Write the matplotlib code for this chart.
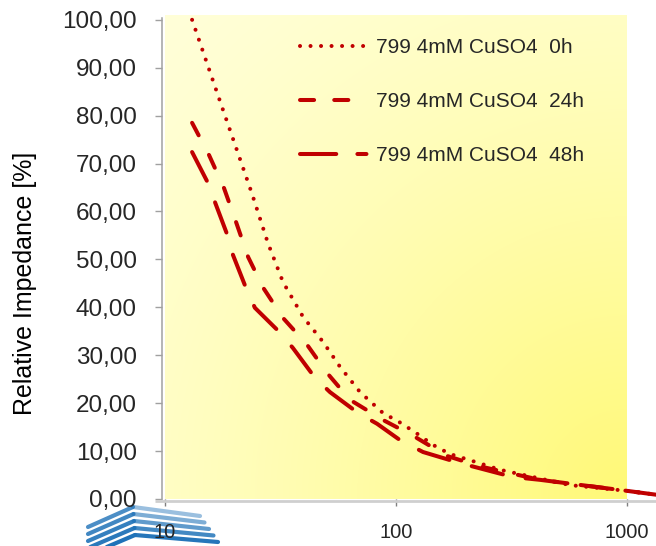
import numpy as np
import matplotlib
matplotlib.use("Agg")
import matplotlib.pyplot as plt
from matplotlib.lines import Line2D
from matplotlib.ticker import FixedLocator, FuncFormatter, NullLocator

plt.rcParams['font.family'] = ['Liberation Sans', 'DejaVu Sans']

# relative impedance vs frequency, 799 sensor in 4mM CuSO4
freq_0h = [13.1, 17.65, 23.8, 27.9, 32.4, 39.6, 48.3, 57.2, 69.9, 87.8,
           103, 122, 144.5, 171, 209, 282, 566, 1000, 1335]
imp_0h = [100.0, 81.8, 63.7, 53.4, 45.3, 38.0, 32.8, 27.6, 22.3, 17.95,
          16.1, 13.8, 11.3, 9.4, 8.1, 6.1, 2.9, 1.7, 0.9]

freq_24h = [13.1, 15.5, 18.0, 20.3, 22.9, 26.6, 32.4, 41.2, 50.3, 63.2,
            87.8, 118.5, 166, 231, 420, 1000, 1335]
imp_24h = [78.5, 71.8, 64.9, 57.8, 50.5, 44.1, 37.8, 32.2, 26.3, 20.7,
           16.5, 13.2, 9.0, 6.8, 4.0, 1.7, 0.9]

freq_48h = [13.1, 15.4, 16.5, 18.75, 19.7, 22.6, 24.5, 31.5, 35.8, 44.6,
            51.8, 68.5, 82.8, 104, 131, 189, 320, 420, 1000, 1335]
imp_48h = [72.4, 65.8, 61.8, 54.7, 50.9, 43.6, 39.9, 34.7, 31.5, 25.3,
           22.3, 17.95, 15.7, 12.3, 9.8, 7.5, 4.6, 4.0, 1.7, 0.9]

labels = ["799 4mM CuSO4  0h", "799 4mM CuSO4  24h", "799 4mM CuSO4  48h"]
x_ticks = [10, 100, 1000]
y_ticks = [0, 10, 20, 30, 40, 50, 60, 70, 80, 90, 100]

red = '#c00000'
W, H = 656, 546

fig = plt.figure(figsize=(W / 100, H / 100), dpi=100)

# yellow gradient panel behind the plot (stops at 1000 Hz)
bg = fig.add_axes([165 / W, (H - 499) / H, (627 - 165) / W, (499 - 15) / H])
u, v = np.meshgrid(np.linspace(0, 1, 300), np.linspace(0, 1, 300))
t = 1 - np.sqrt((1 - u) ** 2 + (1 - v) ** 2) / np.sqrt(2)
t = np.clip(t, 0, 1) ** 1.3
c0 = np.array([255, 255, 216]) / 255
c1 = np.array([255, 249, 118]) / 255
img = c0[None, None, :] * (1 - t[..., None]) + c1[None, None, :] * t[..., None]
bg.imshow(img, aspect='auto', interpolation='bicubic')
bg.set_axis_off()

ax = fig.add_axes([165 / W, (H - 499) / H, (W - 165) / W, (499 - 15) / H])
ax.set_facecolor('none')
ax.set_xscale('log')
ax.set_xlim(10, 1335)
ax.set_ylim(0, 101)

ax.plot(freq_0h, imp_0h, color=red, lw=2.9, ls=(0, (0.01, 2.6)),
        dash_capstyle='round', clip_on=False)
ax.plot(freq_24h, imp_24h, color=red, lw=2.9, ls=(0, (3.5, 5.5)),
        dash_capstyle='round', clip_on=False)
ax.plot(freq_48h, imp_48h, color=red, lw=2.9, ls=(0, (8, 5.75)),
        dash_capstyle='round', clip_on=False)

handles = [
    Line2D([], [], color=red, lw=2.9, ls=(0, (0.01, 2.6)), dash_capstyle='round'),
    Line2D([], [], color=red, lw=2.9, ls=(0, (3.5, 5.0)), dash_capstyle='round'),
    Line2D([], [], color=red, lw=2.9, ls=(0, (9, 5.25, 2.25, 5.25)), dash_capstyle='round'),
]
fs_leg = 15
px = fs_leg * 100 / 72
ax.legend(handles, labels, loc='upper left',
          bbox_to_anchor=(300 / W, (H - 38) / H), bbox_transform=fig.transFigure,
          frameon=False, borderpad=0, borderaxespad=0, fontsize=fs_leg,
          handlelength=67 / px, handletextpad=9 / px, labelspacing=1.68,
          labelcolor='#262626')

# axes styling
for s in ['top', 'right', 'bottom']:
    ax.spines[s].set_visible(False)
ax.spines['left'].set_position(('outward', 2.2))
ax.spines['left'].set_color('#a0a0a0')
ax.spines['left'].set_linewidth(1.1)
ax.spines['left'].set_bounds(0, 100.4)
ax.plot([-10 / 491, 1], [-2 / 484, -2 / 484], transform=ax.transAxes,
        color='#cfcfcf', lw=2.0, clip_on=False, solid_capstyle='butt')

ax.yaxis.set_major_locator(FixedLocator(y_ticks))
ax.yaxis.set_major_formatter(FuncFormatter(lambda val, _: f"{val:.2f}".replace('.', ',')))
ax.xaxis.set_major_locator(FixedLocator(x_ticks))
ax.xaxis.set_major_formatter(FuncFormatter(lambda val, _: f"{int(val)}"))
ax.xaxis.set_minor_locator(NullLocator())
ax.tick_params(axis='y', length=5, width=1, color='#a0a0a0', pad=13,
               labelsize=17.5, labelcolor='#262626')
ax.tick_params(axis='x', length=5, width=1, color='#808080', pad=12,
               labelsize=14.5, labelcolor='#262626')

ax.set_ylabel("Relative Impedance [%]", fontsize=18, color='black')
ax.yaxis.set_label_coords(-0.261, 0.445)

# company logo: blue stripes in the lower left corner
for i in range(5):
    xs = np.array([88, 133 + 0.5 * i, 200 + 4.5 * i])
    ys = np.array([527 + 7 * i, 507 + 7 * i, 516 + 6.5 * i])
    fx, fy = xs / W, (H - ys) / H
    fig.add_artist(Line2D(fx[:2], fy[:2], transform=fig.transFigure,
                          color='#1f72b8', lw=3.0, alpha=0.8 + 0.05 * i, zorder=-1,
                          solid_capstyle='round'))
    fig.add_artist(Line2D(fx[1:], fy[1:], transform=fig.transFigure,
                          color='#1f72b8', lw=3.0, alpha=0.45 + 0.13 * i, zorder=-1,
                          solid_capstyle='round'))

fig.savefig('out.png', dpi=100)
